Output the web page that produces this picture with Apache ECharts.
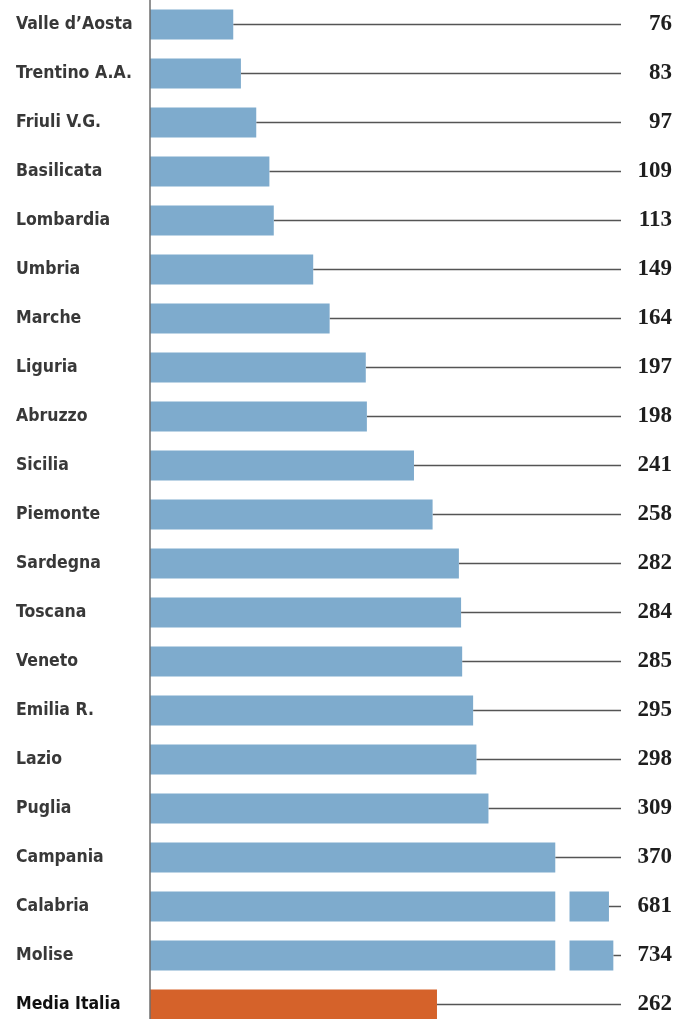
<!DOCTYPE html>
<html>
<head>
<meta charset="utf-8">
<script src="https://cdn.jsdelivr.net/npm/echarts@6/dist/echarts.min.js"></script>
<style>html,body{margin:0;padding:0;background:#fff}#c{width:677px;height:1019px}</style>
</head>
<body>
<div id="c"></div>
<script>
// ---- data ----
var categories = ["Valle d\u2019Aosta","Trentino A.A.","Friuli V.G.","Basilicata","Lombardia","Umbria","Marche","Liguria","Abruzzo","Sicilia","Piemonte","Sardegna","Toscana","Veneto","Emilia R.","Lazio","Puglia","Campania","Calabria","Molise","Media Italia"];
var values = [76,83,97,109,113,149,164,197,198,241,258,282,284,285,295,298,309,370,681,734,262];
// broken bars (values beyond the axis): main part stops at breakAt, then a gap and a short tail
var breakAt = 370;
var breakGap = 13;
var tailLengths = [null,null,null,null,null,null,null,null,null,null,null,null,null,null,null,null,null,null,36,40,null];
var axisMax = 430;

var BLUE = '#7eabcd', ORANGE = '#d5622a';
var lastIdx = categories.length - 1;

var mainData = values.map(function (v, i) {
  var d = { value: tailLengths[i] ? breakAt : v };
  if (i === lastIdx) d.itemStyle = { color: ORANGE };
  return d;
});
var gapData = values.map(function (v, i) { return tailLengths[i] ? breakGap : 0; });
var tailData = values.map(function (v, i) { return tailLengths[i] ? tailLengths[i] : 0; });
var leaderData = values.map(function (v, i) {
  var end = tailLengths[i] ? breakAt + breakGap + tailLengths[i] : v;
  return [end, i];
});

var chart = echarts.init(document.getElementById('c'), null, { renderer: 'canvas' });
chart.setOption({
  animation: false,
  backgroundColor: '#fff',
  grid: { left: 150, right: 56, top: 0, height: 1029, containLabel: false, outerBoundsMode: 'none' },
  xAxis: { type: 'value', min: 0, max: axisMax, show: false },
  yAxis: [{
    type: 'category', data: categories, inverse: true, position: 'left', z: 5,
    axisLine: { show: true, lineStyle: { color: '#6e6e6e', width: 1.5 } },
    axisTick: { show: false },
    axisLabel: {
      align: 'left', margin: 134, color: '#383838',
      fontFamily: 'DejaVu Sans Condensed', fontWeight: 'bold', fontSize: 17.5,
      formatter: function (v, i) { return i === lastIdx ? '{b|' + v + '}' : v; },
      rich: { b: { fontFamily: 'DejaVu Sans Condensed', fontWeight: 'bold', fontSize: 17.5, color: '#111' } }
    }
  }, {
    type: 'category', data: values.map(String), inverse: true, position: 'right',
    axisLine: { show: false }, axisTick: { show: false },
    axisLabel: {
      align: 'right', margin: 51, color: '#1e1e1e',
      fontFamily: 'Liberation Serif', fontWeight: 'bold', fontSize: 23
    }
  }],
  series: [{
    type: 'custom', yAxisIndex: 0, z: 1,
    renderItem: function (params, api) {
      var a = api.coord([api.value(0), api.value(1)]);
      var b = api.coord([axisMax, api.value(1)]);
      return { type: 'line', shape: { x1: a[0], y1: a[1], x2: b[0], y2: b[1] },
               style: { stroke: '#555', lineWidth: 1.5 } };
    },
    data: leaderData
  }, {
    type: 'bar', stack: 's', barWidth: 30, z: 2,
    itemStyle: { color: BLUE }, data: mainData
  }, {
    type: 'bar', stack: 's', barWidth: 30, z: 2,
    itemStyle: { color: 'rgba(0,0,0,0)' }, data: gapData
  }, {
    type: 'bar', stack: 's', barWidth: 30, z: 2,
    itemStyle: { color: BLUE }, data: tailData
  }]
});
</script>
</body>
</html>
